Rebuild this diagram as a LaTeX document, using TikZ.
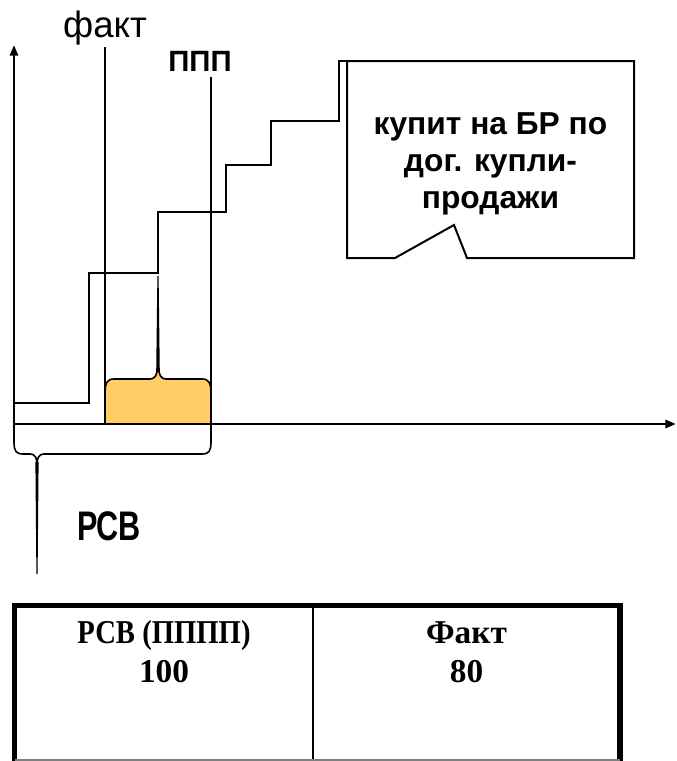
\documentclass[tikz,border=0pt]{standalone}
\usepackage{fontspec}
\setmainfont{Liberation Sans}
\newfontfamily\tnr{Liberation Serif}
\usetikzlibrary{arrows.meta}
\definecolor{bracefill}{RGB}{255,204,102}
\begin{document}
\begin{tikzpicture}[x=0.75pt,y=-0.75pt,
  axisline/.style={line width=2pt,-{Triangle[length=8pt,width=6pt]}},
  vline/.style={line width=2pt},
  stair/.style={line width=1.5pt,line join=miter},
  callout/.style={line width=1.5pt,line join=miter},
  bracestyle/.style={line width=1.2pt},
  lbl/.style={inner sep=0pt,anchor=base},
  tabtext/.style={inner sep=0pt,anchor=base,font=\tnr\bfseries\fontsize{25}{29.25}\selectfont}]
\useasboundingbox (0,0) rectangle (677,761);
% coordinates
\coordinate (O) at (14,424);
\coordinate (ytop) at (14,45);
\coordinate (xend) at (676,424);
\coordinate (f0) at (105,424);
\coordinate (f1) at (105,47);
\coordinate (p0) at (211,424);
\coordinate (p1) at (211,77);
% orange brace
\filldraw[bracestyle,fill=bracefill] (105,424) -- (105,394) .. controls (105,383) and (107,379) .. (114,379)
  -- (150,379) .. controls (155,379) and (157,376) .. (158,364)
  .. controls (159,376) and (161,379) .. (166,379) -- (202,379)
  .. controls (209,379) and (211,383) .. (211,394) -- (211,424) -- cycle;
\fill (156.2,372) -- (157.4,276) -- (158.6,276) -- (159.8,372) -- cycle;
% lower brace
\draw[bracestyle] (14,424) -- (14,442) .. controls (14,451) and (16,454) .. (23,454) -- (30,454)
  .. controls (35,454) and (37,457) .. (37,467)
  .. controls (37,457) and (39,454) .. (44,454) -- (202,454)
  .. controls (209,454) and (211,451) .. (211,442) -- (211,424);
\fill (35.4,462) -- (36.4,574) -- (37.6,574) -- (38.6,462) -- cycle;
% axes and vertical lines
\draw[vline] (f0) -- (f1);
\draw[vline] (p0) -- (p1);
\draw[axisline] (O) -- (ytop);
\draw[axisline] (O) -- (xend);
% staircase
\draw[stair] (14,403) -- (89,403) -- (89,273) -- (158,273) -- (158,212) -- (226,212)
  -- (226,165) -- (271,165) -- (271,121) -- (339,121) -- (339,61) -- (347,61);
% callout
\draw[callout] (347,61) -- (634,61) -- (634,258) -- (467,258) -- (454,225) -- (395,258) -- (347,258) -- cycle;
\node[inner sep=0pt,align=center,font=\bfseries\fontsize{23.8}{27.5}\selectfont] (ct) at (490.5,164)
  {купит на БР по\\дог. купли-\\продажи};
% labels
\node[lbl,font=\fontsize{27.5}{30}\selectfont] (fakt) at (105,37) {факт};
\node[lbl,font=\bfseries\fontsize{22}{24}\selectfont] (ppp) at (200,71) {ППП};
\node[lbl,font=\bfseries\fontsize{31}{34}\selectfont,xscale=0.74] (rsv) at (109,540) {РСВ};
% table
\draw[line width=4pt] (14.5,762) -- (14.5,605.5) -- (620,605.5) -- (620,762);
\draw[line width=1.6pt] (313,605.5) -- (313,762);
\draw[gray,line width=1pt] (14.5,760) -- (620,760);
\node[tabtext,xscale=0.86] (c1a) at (164,643) {РСВ (ПППП)};
\node[tabtext] (c1b) at (164,682) {100};
\node[tabtext] (c2a) at (466.5,643) {Факт};
\node[tabtext] (c2b) at (466.5,682) {80};
\end{tikzpicture}
\end{document}
